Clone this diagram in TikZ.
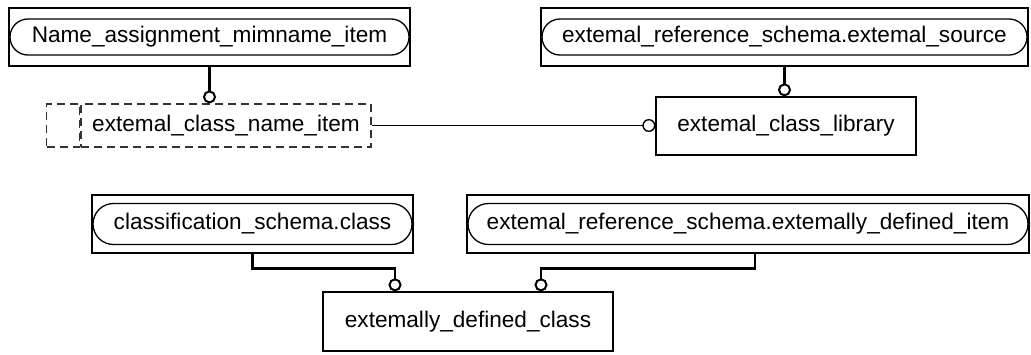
\documentclass[tikz,border=0pt]{standalone}
\usepackage{fontspec}
\setmainfont{Liberation Sans}
\usetikzlibrary{shapes.misc, arrows.meta, positioning}
\tikzstyle{outer} = [rectangle, draw=black, line width=0.65pt, minimum height=29pt, inner sep=0pt]
\tikzstyle{select} = [rounded rectangle, draw=black, line width=0.65pt, minimum height=18pt, inner sep=0pt]
\tikzstyle{entity} = [rectangle, draw=black, line width=0.65pt, minimum height=29pt, text centered]
\tikzstyle{dashbox} = [rectangle, draw=black!80, dash pattern=on 4pt off 2.5pt, line width=0.6pt, minimum height=21.5pt, inner sep=0pt]
\tikzstyle{rel} = [line width=1.2pt, -{Circle[open,length=6.5pt,line width=1pt]}]
\tikzstyle{thinrel} = [line width=0.6pt, -{Circle[open,length=6.5pt,line width=0.7pt]}]

\begin{document}
\begin{tikzpicture}[x=0.5pt, y=-0.5pt, font=\fontsize{11.3}{13}\selectfont]
	\useasboundingbox (0,0) rectangle (1031,354);
	% top row
	\node (nameout) [outer, minimum width=200.5pt] at (209.5,37) {};
	\node (namesel) [select, minimum width=199.5pt] at (nameout.center) {Name\_assignment\_mimname\_item};
	\node (srcout) [outer, minimum width=243.5pt] at (784.5,37) {};
	\node (srcsel) [select, minimum width=242.5pt] at (srcout.center) {extemal\_reference\_schema.extemal\_source};
	% middle row
	\node (classname) [dashbox, minimum width=145pt] at (226,125.5) {extemal\_class\_name\_item};
	\node (classtag) [dashbox, minimum width=16.5pt, left=0pt of classname] {};
	\node (library) [entity, minimum width=130pt] at (786,126) {extemal\_class\_library};
	% bottom row
	\node (clsout) [outer, minimum width=160.5pt] at (252.5,224) {};
	\node (clssel) [select, minimum width=159.5pt, minimum height=20.5pt] at (clsout.center) {classification\_schema.class};
	\node (itemout) [outer, minimum width=281pt] at (748,224) {};
	\node (itemsel) [select, minimum width=280pt, minimum height=20.5pt] at (itemout.center) {extemal\_reference\_schema.extemally\_defined\_item};
	\node (defcls) [entity, minimum width=145pt, minimum height=29.5pt] at (468,321.5) {extemally\_defined\_class};
	% connectors
	\coordinate (in1) at ([xshift=-36.5pt]defcls.north);
	\coordinate (in2) at ([xshift=36.5pt]defcls.north);
	\coordinate (out2) at ([xshift=3.5pt]itemout.south);
	\draw [rel] (nameout.south) -- (classname.north -| nameout.south);
	\draw [rel] (srcout.south) -- (srcout.south |- library.north);
	\draw [thinrel] (classname.east) -- (classname.east -| library.west);
	\draw [rel] (clsout.south) -- ++(0,15) -| (in1);
	\draw [rel] (out2) -- ++(0,15) -| (in2);
\end{tikzpicture}
\end{document}
